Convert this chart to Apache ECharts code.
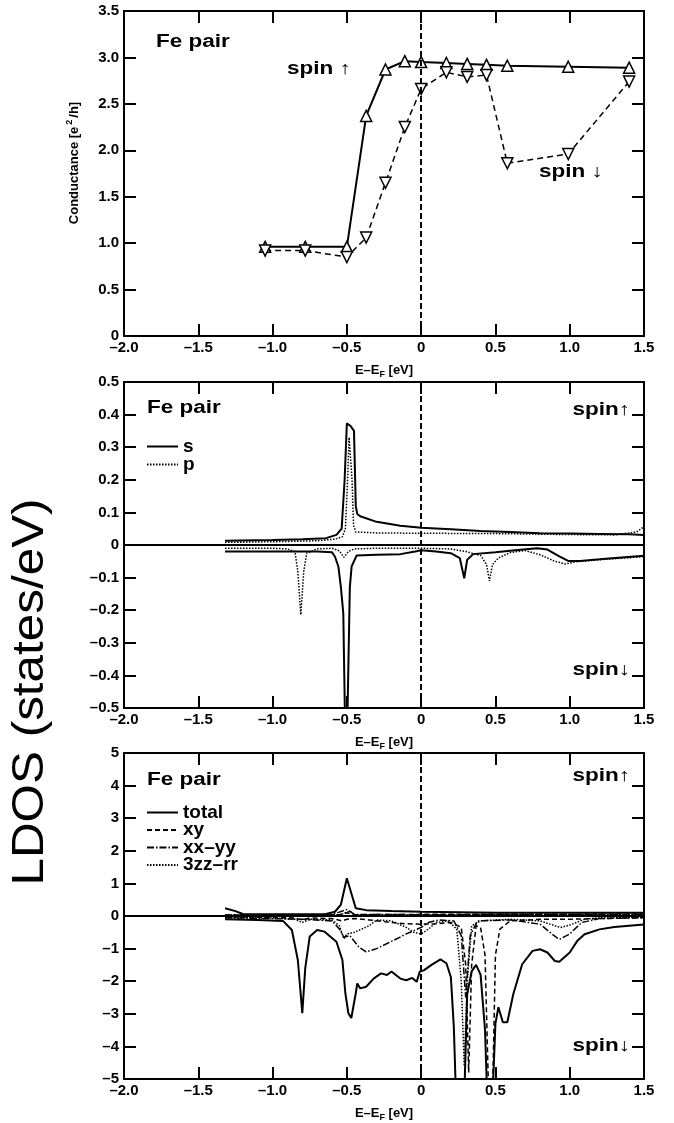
<!DOCTYPE html>
<html>
<head>
<meta charset="utf-8">
<script src="https://cdn.jsdelivr.net/npm/echarts@6/dist/echarts.min.js"></script>
<style>
  html, body { margin: 0; padding: 0; background: #fff; }
  #chart { width: 674px; height: 1123px; }
</style>
</head>
<body>
<div id="chart"></div>
<script>
// panel 1: conductance (e^2/h) vs energy
const condE = [-1.05, -0.78, -0.5, -0.37, -0.24, -0.11, 0, 0.17, 0.31, 0.44, 0.58, 0.99, 1.4];
const condUp = [0.96, 0.96, 0.96, 2.37, 2.87, 2.96, 2.95, 2.94, 2.93, 2.92, 2.91, 2.90, 2.89];
const condDown = [0.92, 0.92, 0.85, 1.06, 1.65, 2.25, 2.66, 2.84, 2.79, 2.81, 1.86, 1.96, 2.74];

// panel 2: s / p LDOS, [E, value]
const sUp = [[-1.32,0.013],[-1.0,0.015],[-0.8,0.018],[-0.64,0.021],[-0.57,0.031],[-0.535,0.05],[-0.515,0.2],[-0.5,0.373],[-0.475,0.365],[-0.452,0.35],[-0.44,0.12],[-0.43,0.095],[-0.41,0.088],[-0.3,0.071],[-0.14,0.059],[0,0.053],[0.2,0.048],[0.4,0.043],[0.6,0.04],[0.8,0.036],[1.0,0.035],[1.2,0.034],[1.4,0.033],[1.5,0.031]];
const pUp = [[-1.32,0.008],[-1.0,0.01],[-0.7,0.013],[-0.58,0.018],[-0.53,0.025],[-0.51,0.05],[-0.495,0.2],[-0.485,0.33],[-0.475,0.33],[-0.465,0.2],[-0.455,0.06],[-0.44,0.04],[-0.3,0.037],[0,0.036],[0.5,0.035],[1.0,0.032],[1.3,0.031],[1.45,0.04],[1.5,0.056]];
const sDown = [[-1.32,-0.02],[-1.0,-0.02],[-0.7,-0.02],[-0.6,-0.022],[-0.58,-0.036],[-0.557,-0.066],[-0.54,-0.13],[-0.524,-0.21],[-0.512,-0.55],[-0.497,-0.55],[-0.48,-0.13],[-0.468,-0.066],[-0.434,-0.032],[-0.3,-0.03],[-0.14,-0.028],[-0.04,-0.02],[0,-0.016],[0.1,-0.02],[0.2,-0.025],[0.26,-0.04],[0.29,-0.102],[0.31,-0.045],[0.35,-0.028],[0.5,-0.022],[0.65,-0.015],[0.78,-0.01],[0.85,-0.014],[0.93,-0.035],[0.99,-0.049],[1.07,-0.049],[1.2,-0.044],[1.35,-0.038],[1.5,-0.033]];
const pDown = [[-1.32,-0.01],[-1.0,-0.01],[-0.9,-0.012],[-0.85,-0.02],[-0.83,-0.08],[-0.81,-0.214],[-0.79,-0.08],[-0.77,-0.025],[-0.7,-0.012],[-0.6,-0.01],[-0.55,-0.018],[-0.52,-0.038],[-0.49,-0.02],[-0.45,-0.012],[-0.3,-0.01],[0,-0.01],[0.2,-0.012],[0.3,-0.02],[0.4,-0.032],[0.44,-0.06],[0.46,-0.11],[0.48,-0.06],[0.52,-0.04],[0.6,-0.023],[0.7,-0.017],[0.8,-0.03],[0.9,-0.05],[0.97,-0.058],[1.05,-0.051],[1.2,-0.045],[1.5,-0.036]];

// panel 3: total and d-orbital LDOS, [E, value]
const totalUp = [[-1.32,0.24],[-1.25,0.15],[-1.2,0.06],[-1.0,0.05],[-0.8,0.05],[-0.64,0.06],[-0.58,0.13],[-0.54,0.35],[-0.5,1.16],[-0.47,0.7],[-0.44,0.24],[-0.37,0.18],[-0.2,0.15],[0,0.13],[0.5,0.1],[1.0,0.1],[1.5,0.1]];
const xyUp = [[-1.32,0.03],[-1.0,0.03],[-0.55,0.04],[-0.5,0.1],[-0.45,0.04],[0,0.05],[1.5,0.06]];
const xxUp = [[-1.32,0.03],[-0.6,0.04],[-0.5,0.2],[-0.45,0.05],[0,0.04],[1.5,0.05]];
const zzUp = [[-1.32,0.02],[-0.55,0.03],[-0.48,0.15],[-0.44,0.03],[1.5,0.04]];
const totalDown = [[-1.32,-0.1],[-1.1,-0.12],[-0.93,-0.15],[-0.87,-0.43],[-0.83,-1.35],[-0.8,-2.98],[-0.78,-1.6],[-0.75,-0.63],[-0.7,-0.43],[-0.65,-0.48],[-0.57,-0.79],[-0.53,-1.35],[-0.51,-2.37],[-0.49,-2.98],[-0.47,-3.13],[-0.44,-2.37],[-0.43,-2.07],[-0.41,-2.22],[-0.37,-2.17],[-0.32,-1.92],[-0.27,-1.76],[-0.23,-1.81],[-0.2,-1.7],[-0.14,-1.92],[-0.1,-1.97],[-0.06,-1.9],[-0.03,-2.02],[-0.01,-1.71],[0.02,-1.66],[0.07,-1.5],[0.13,-1.33],[0.17,-1.45],[0.2,-1.87],[0.22,-3.4],[0.235,-5.6],[0.29,-5.6],[0.31,-2.4],[0.34,-1.7],[0.37,-1.5],[0.4,-1.8],[0.43,-3.5],[0.445,-5.6],[0.48,-5.6],[0.5,-3.3],[0.52,-2.8],[0.55,-3.26],[0.58,-3.26],[0.62,-2.4],[0.68,-1.48],[0.75,-1.07],[0.8,-1.02],[0.85,-1.12],[0.9,-1.38],[0.93,-1.4],[1.0,-1.12],[1.05,-0.77],[1.1,-0.56],[1.2,-0.41],[1.3,-0.34],[1.5,-0.26]];
const xyDown = [[-1.32,-0.03],[-1.0,-0.04],[-0.85,-0.06],[-0.8,-0.12],[-0.75,-0.06],[-0.6,-0.08],[-0.53,-0.15],[-0.5,-0.1],[-0.45,-0.08],[-0.35,-0.12],[-0.2,-0.2],[-0.1,-0.24],[0,-0.25],[0.1,-0.24],[0.2,-0.2],[0.27,-0.35],[0.3,-1.5],[0.32,-4.8],[0.34,-1.5],[0.37,-0.3],[0.4,-0.35],[0.43,-1.2],[0.455,-5.6],[0.48,-5.6],[0.5,-1.2],[0.53,-0.4],[0.6,-0.15],[0.8,-0.1],[1.0,-0.1],[1.5,-0.05]];
const xxDown = [[-1.32,-0.05],[-1.0,-0.08],[-0.8,-0.1],[-0.6,-0.15],[-0.55,-0.4],[-0.52,-0.65],[-0.48,-0.6],[-0.42,-0.95],[-0.37,-1.1],[-0.3,-1.0],[-0.2,-0.78],[-0.1,-0.55],[0,-0.35],[0.05,-0.2],[0.12,-0.12],[0.22,-0.15],[0.27,-0.6],[0.3,-2.5],[0.33,-0.6],[0.38,-0.15],[0.6,-0.12],[0.8,-0.25],[0.88,-0.55],[0.93,-0.72],[1.0,-0.55],[1.08,-0.2],[1.2,-0.08],[1.5,-0.05]];
const zzDown = [[-1.32,-0.05],[-1.0,-0.06],[-0.85,-0.1],[-0.8,-0.2],[-0.75,-0.1],[-0.6,-0.12],[-0.55,-0.3],[-0.52,-0.7],[-0.5,-0.55],[-0.45,-0.5],[-0.35,-0.3],[-0.3,-0.12],[-0.2,-0.15],[-0.1,-0.35],[-0.05,-0.5],[0,-0.55],[0.05,-0.4],[0.1,-0.2],[0.18,-0.15],[0.24,-0.4],[0.27,-2.0],[0.29,-4.6],[0.31,-2.0],[0.34,-0.3],[0.4,-0.15],[0.6,-0.1],[0.8,-0.15],[0.9,-0.3],[0.94,-0.35],[1.0,-0.28],[1.1,-0.1],[1.2,-0.05],[1.5,-0.03]];

const FONT = 'Liberation Sans, Arial, Helvetica, sans-serif';
const DASH = [5, 3];
const DOT = [1.5, 1.5];
const DASHDOT = [7, 2, 1.5, 2];

function fmt(v) {
  if (Math.abs(v) < 1e-9) return '0';
  const s = Math.abs(v).toFixed(1);
  return v < 0 ? '\u2013' + s : s;
}
function fmtInt(v) {
  if (Math.abs(v) < 1e-9) return '0';
  return v < 0 ? '\u2013' + Math.abs(v) : String(v);
}

const eName = '{a|E\u2013E}{s|F}{a| [eV]}';
const eRich = {
  a: { fontFamily: FONT, fontWeight: 'bold', fontSize: 13, color: '#000' },
  s: { fontFamily: FONT, fontWeight: 'bold', fontSize: 9, color: '#000', padding: [8, 0, 0, 0] }
};

function xAxis(gi, pos) {
  const bottom = pos === 'bottom';
  return {
    type: 'value', gridIndex: gi, position: pos,
    min: -2, max: 1.5, interval: 0.5,
    axisLine: { show: true, onZero: false, lineStyle: { color: '#000', width: 2 } },
    axisTick: { show: true, inside: true, length: 12, lineStyle: { color: '#000', width: 2 } },
    axisLabel: { show: bottom, formatter: fmt, fontFamily: FONT, fontWeight: 'bold', fontSize: 15, color: '#000', margin: 4 },
    splitLine: { show: false },
    name: bottom ? eName : '', nameLocation: 'middle', nameGap: 26,
    nameTextStyle: { rich: eRich }
  };
}
function yAxis(gi, pos, min, max, interval, f) {
  const left = pos === 'left';
  return {
    type: 'value', gridIndex: gi, position: pos,
    min: min, max: max, interval: interval,
    axisLine: { show: true, onZero: false, lineStyle: { color: '#000', width: 2 } },
    axisTick: { show: true, inside: true, length: 12, lineStyle: { color: '#000', width: 2 } },
    axisLabel: { show: left, formatter: f, fontFamily: FONT, fontWeight: 'bold', fontSize: 15, color: '#000', margin: 5 },
    splitLine: { show: false }
  };
}

const zeroLines = function (withH) {
  const data = [{ xAxis: 0, lineStyle: { type: [6, 3], width: 2, color: '#000' } }];
  if (withH) data.push({ yAxis: 0, lineStyle: { type: 'solid', width: 2, color: '#000' } });
  return { silent: true, symbol: ['none', 'none'], label: { show: false }, data: data };
};

function curve(name, xi, yi, data, type, width, mark) {
  const s = {
    name: name, type: 'line', xAxisIndex: xi, yAxisIndex: yi, data: data,
    symbol: 'none', smooth: false,
    lineStyle: { color: '#000', width: width, type: type },
    itemStyle: { color: '#000' }
  };
  if (mark) s.markLine = mark;
  return s;
}

// bold labels drawn wider, like the original figure's lettering
function label(text, x, y, align) {
  return {
    type: 'text', x: x, y: y, scaleX: 1.25, silent: true,
    style: { text: text, font: 'bold 18px ' + FONT, fill: '#000', textAlign: align || 'left', textVerticalAlign: 'middle' }
  };
}

const legendText = { fontFamily: FONT, fontWeight: 'bold', fontSize: 19, color: '#000' };

const option = {
  animation: false,
  backgroundColor: '#fff',
  grid: [
    { left: 124, top: 11, width: 520, height: 325 },
    { left: 124, top: 382, width: 520, height: 326 },
    { left: 124, top: 753, width: 520, height: 326 }
  ],
  xAxis: [
    xAxis(0, 'bottom'), xAxis(0, 'top'),
    xAxis(1, 'bottom'), xAxis(1, 'top'),
    xAxis(2, 'bottom'), xAxis(2, 'top')
  ],
  yAxis: [
    yAxis(0, 'left', 0, 3.5, 0.5, fmt),
    yAxis(0, 'right', 0, 3.5, 0.5, fmt),
    yAxis(1, 'left', -0.5, 0.5, 0.1, fmt),
    yAxis(1, 'right', -0.5, 0.5, 0.1, fmt),
    yAxis(2, 'left', -5, 5, 1, fmtInt),
    yAxis(2, 'right', -5, 5, 1, fmtInt)
  ],
  legend: [
    {
      data: ['s', 'p'], orient: 'vertical', left: 146, top: 437, padding: 0,
      itemWidth: 31, itemHeight: 14, itemGap: -1, selectedMode: false,
      itemStyle: { opacity: 0 },
      textStyle: Object.assign({ lineHeight: 15 }, legendText)
    },
    {
      data: ['total', 'xy', 'xx\u2013yy', '3zz\u2013rr'], orient: 'vertical', left: 146, top: 803, padding: 0,
      itemWidth: 31, itemHeight: 14, itemGap: -1.5, selectedMode: false,
      itemStyle: { opacity: 0 },
      textStyle: Object.assign({ lineHeight: 15 }, legendText)
    }
  ],
  series: [
    {
      name: 'spin up', type: 'line', xAxisIndex: 0, yAxisIndex: 0,
      data: condE.map((e, i) => [e, condUp[i]]),
      symbol: 'triangle', symbolSize: 11,
      lineStyle: { color: '#000', width: 2 },
      itemStyle: { color: '#fff', borderColor: '#000', borderWidth: 1.5 },
      markLine: zeroLines(false)
    },
    {
      name: 'spin down', type: 'line', xAxisIndex: 0, yAxisIndex: 0,
      data: condE.map((e, i) => [e, condDown[i]]),
      symbol: 'triangle', symbolRotate: 180, symbolSize: 11,
      lineStyle: { color: '#000', width: 1.5, type: [6, 4] },
      itemStyle: { color: '#fff', borderColor: '#000', borderWidth: 1.5 }
    },
    curve('s', 2, 2, sUp, 'solid', 2, zeroLines(true)),
    curve('p', 2, 2, pUp, DOT, 1.5),
    curve('s', 2, 2, sDown, 'solid', 2),
    curve('p', 2, 2, pDown, DOT, 1.5),
    curve('total', 4, 4, totalUp, 'solid', 2, zeroLines(true)),
    curve('xy', 4, 4, xyUp, DASH, 1.5),
    curve('xx\u2013yy', 4, 4, xxUp, DASHDOT, 1.5),
    curve('3zz\u2013rr', 4, 4, zzUp, DOT, 1.5),
    curve('total', 4, 4, totalDown, 'solid', 2),
    curve('xy', 4, 4, xyDown, DASH, 1.5),
    curve('xx\u2013yy', 4, 4, xxDown, DASHDOT, 1.5),
    curve('3zz\u2013rr', 4, 4, zzDown, DOT, 1.5)
  ],
  graphic: [
    label('Fe pair', 156, 42),
    label('spin \u2191', 287, 69),
    label('spin \u2193', 539, 172),
    label('Fe pair', 147, 408),
    label('spin\u2191', 630, 410, 'right'),
    label('spin\u2193', 630, 670, 'right'),
    label('Fe pair', 147, 780),
    label('spin\u2191', 630, 776, 'right'),
    label('spin\u2193', 630, 1046, 'right'),
    {
      type: 'text', x: 74, y: 163, rotation: Math.PI / 2, silent: true,
      style: {
        text: '{a|Conductance [e}{s|2}{a|/h]}', textAlign: 'center', textVerticalAlign: 'middle',
        rich: {
          a: { fontFamily: FONT, fontWeight: 'bold', fontSize: 13, fill: '#000' },
          s: { fontFamily: FONT, fontWeight: 'bold', fontSize: 9, fill: '#000', padding: [0, 2, 8, 2] }
        }
      }
    },
    {
      type: 'text', x: 31, y: 692, rotation: Math.PI / 2, scaleX: 1.3, scaleY: 1.15, silent: true,
      style: { text: 'LDOS (states/eV)', font: '38px ' + FONT, fill: '#000', textAlign: 'center', textVerticalAlign: 'middle' }
    }
  ]
};

const chart = echarts.init(document.getElementById('chart'), null, { renderer: 'canvas' });
chart.setOption(option);
</script>
</body>
</html>
